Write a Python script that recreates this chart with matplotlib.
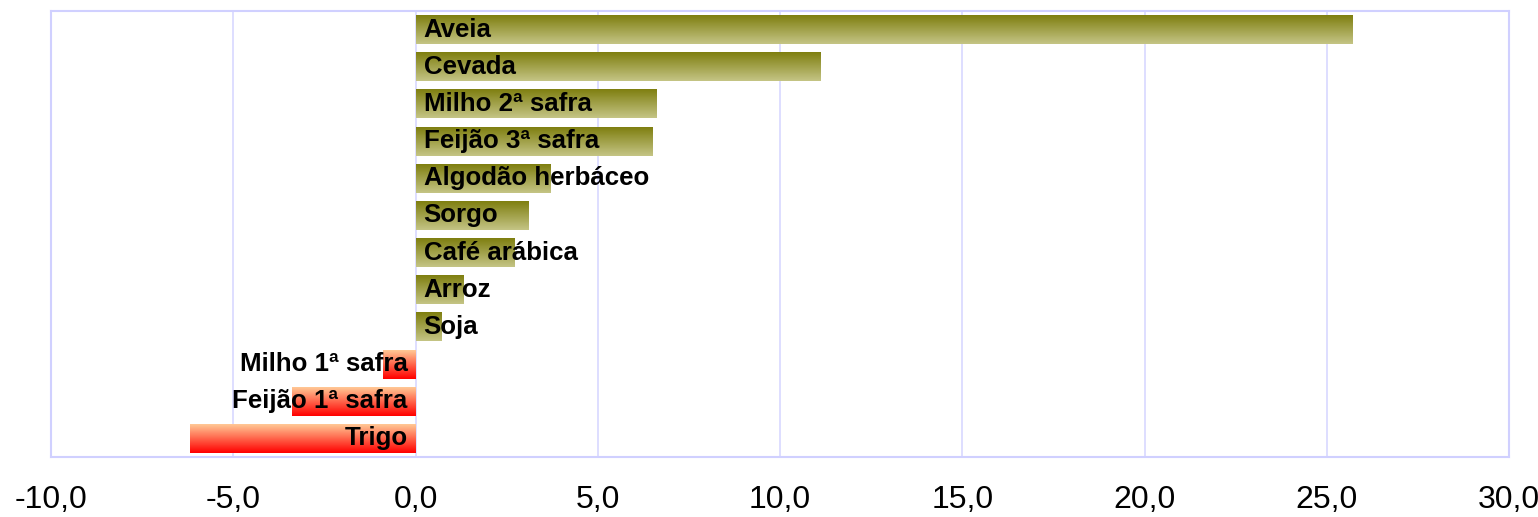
import numpy as np
import matplotlib.pyplot as plt
from matplotlib.colors import LinearSegmentedColormap

# Dados: variação percentual por cultura
culturas = ["Aveia", "Cevada", "Milho 2ª safra", "Feijão 3ª safra", "Algodão herbáceo",
            "Sorgo", "Café arábica", "Arroz", "Soja", "Milho 1ª safra",
            "Feijão 1ª safra", "Trigo"]
variacao = [25.7, 11.1, 6.6, 6.5, 3.7, 3.1, 2.7, 1.3, 0.7, -0.9, -3.4, -6.2]
ticks_x = [-10, -5, 0, 5, 10, 15, 20, 25, 30]

plt.rcParams['font.family'] = ['Liberation Sans', 'DejaVu Sans']

fig = plt.figure(figsize=(15.38, 5.17), dpi=100)
ax = fig.add_axes([51 / 1538, 60 / 517, 1458 / 1538, 446 / 517])

cmap_pos = LinearSegmentedColormap.from_list("pos", ["#7f7f10", "#c4c485"])
cmap_neg = LinearSegmentedColormap.from_list("neg", ["#ffc895", "#ff0000"])
grad = np.linspace(0, 1, 64).reshape(-1, 1)

pos = np.arange(len(culturas))
bars = ax.barh(pos, variacao, height=0.78, color='none', edgecolor='none')

for b, v, nome in zip(bars, variacao, culturas):
    x0, y0, w, h = b.get_x(), b.get_y(), b.get_width(), b.get_height()
    ax.imshow(grad, extent=(x0, x0 + w, y0 + h, y0), aspect='auto',
              cmap=cmap_pos if v >= 0 else cmap_neg, zorder=2, interpolation='bilinear')
    if v >= 0:
        ax.text(0.22, y0 + h / 2, nome, ha='left', va='center', fontsize=18.6,
                fontweight='bold', zorder=3)
    else:
        ax.text(-0.22, y0 + h / 2, nome, ha='right', va='center', fontsize=18.6,
                fontweight='bold', zorder=3)

ax.set_xlim(-10, 30)
ax.set_ylim(len(culturas) - 0.5, -0.5)
ax.set_xticks(ticks_x)
ax.set_xticklabels([f"{t:.1f}".replace('.', ',') for t in ticks_x], fontsize=23)
ax.set_yticks([])
ax.tick_params(axis='x', length=0, pad=20)
ax.grid(axis='x', color='#d8d8ff', linewidth=1.2, zorder=0)
ax.set_axisbelow(True)
for s in ax.spines.values():
    s.set_color('#d0d0ff')
    s.set_linewidth(1.5)

fig.savefig("out.png", dpi=100)
